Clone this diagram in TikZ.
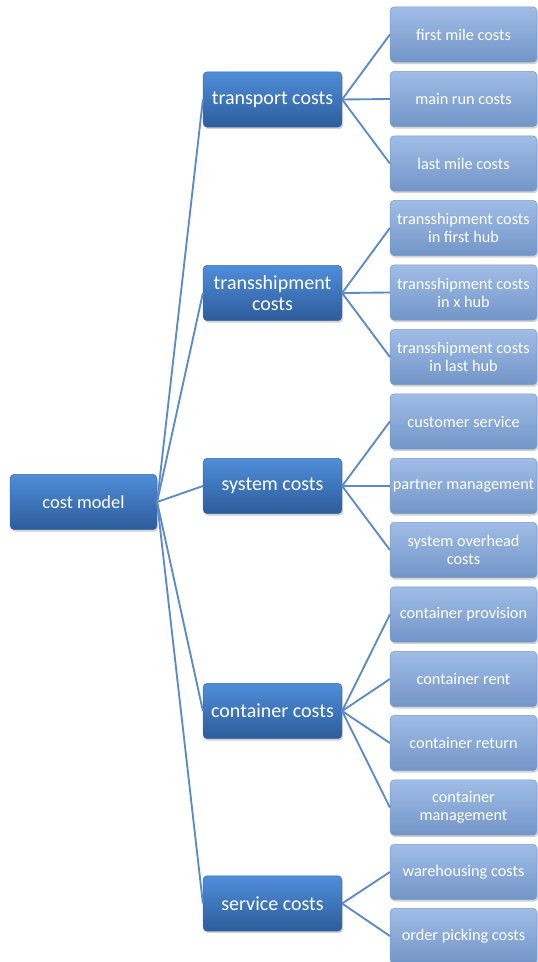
\documentclass[tikz,border=0pt]{standalone}
\usepackage{fontspec}
\setmainfont{Carlito}
\usetikzlibrary{shadows}
\definecolor{darktop}{HTML}{4F8ED9}
\definecolor{darkbot}{HTML}{2D5C9B}
\definecolor{darkedge}{HTML}{3B6DAE}
\definecolor{lighttop}{HTML}{A0BDE6}
\definecolor{lightbot}{HTML}{7295C8}
\definecolor{lightedge}{HTML}{7E9DCB}
\definecolor{linkcol}{HTML}{5C8BC7}
\begin{document}
\begin{tikzpicture}[x=0.75pt,y=-0.75pt,
  boxbase/.style={rounded corners=3pt, text=white, align=center, inner sep=1pt,
    drop shadow={opacity=0.35, shadow xshift=1pt, shadow yshift=-1.5pt}},
  rootbox/.style={boxbase, top color=darktop, bottom color=darkbot, draw=darkedge,
    minimum width=110pt, minimum height=41.5pt, font=\fontsize{13.8}{16}\selectfont},
  midbox/.style={boxbase, top color=darktop, bottom color=darkbot, draw=darkedge,
    minimum width=104pt, minimum height=41.5pt, font=\fontsize{15}{15.8}\selectfont},
  leafbox/.style={boxbase, top color=lighttop, bottom color=lightbot, draw=lightedge,
    minimum width=110pt, minimum height=41.5pt, font=\fontsize{12.2}{13.5}\selectfont},
  link/.style={draw=linkcol, line width=1.4pt}]
\useasboundingbox (0,0) rectangle (537,962);

\node[rootbox] (root) at (83.5,502) {cost model};

\node[midbox] (t) at (272.5,99.5) {transport costs};
\node[midbox] (th) at (272.5,293) {transshipment\\costs};
\node[midbox] (s) at (272.5,486) {system costs};
\node[midbox] (c) at (272.5,711) {container costs};
\node[midbox] (sv) at (272.5,903.5) {service costs};

\node[leafbox] (l1) at (463.5,34.5) {first mile costs};
\node[leafbox] (l2) at (463.5,99) {main run costs};
\node[leafbox] (l3) at (463.5,163.5) {last mile costs};
\node[leafbox] (l4) at (463.5,228) {transshipment costs\\in first hub};
\node[leafbox] (l5) at (463.5,292.5) {transshipment costs\\in x hub};
\node[leafbox] (l6) at (463.5,357) {transshipment costs\\in last hub};
\node[leafbox] (l7) at (463.5,421.5) {customer service};
\node[leafbox] (l8) at (463.5,486) {partner management};
\node[leafbox] (l9) at (463.5,550) {system overhead\\costs};
\node[leafbox] (l10) at (463.5,614.5) {container provision};
\node[leafbox] (l11) at (463.5,679) {container rent};
\node[leafbox] (l12) at (463.5,743) {container return};
\node[leafbox] (l13) at (463.5,807.5) {container\\management};
\node[leafbox] (l14) at (463.5,872) {warehousing costs};
\node[leafbox] (l15) at (463.5,936) {order picking costs};

\foreach \m in {t,th,s,c,sv} \draw[link] (root.east) -- (\m.west);
\foreach \l in {l1,l2,l3} \draw[link] (t.east) -- (\l.west);
\foreach \l in {l4,l5,l6} \draw[link] (th.east) -- (\l.west);
\foreach \l in {l7,l8,l9} \draw[link] (s.east) -- (\l.west);
\foreach \l in {l10,l11,l12,l13} \draw[link] (c.east) -- (\l.west);
\foreach \l in {l14,l15} \draw[link] (sv.east) -- (\l.west);
\end{tikzpicture}
\end{document}
